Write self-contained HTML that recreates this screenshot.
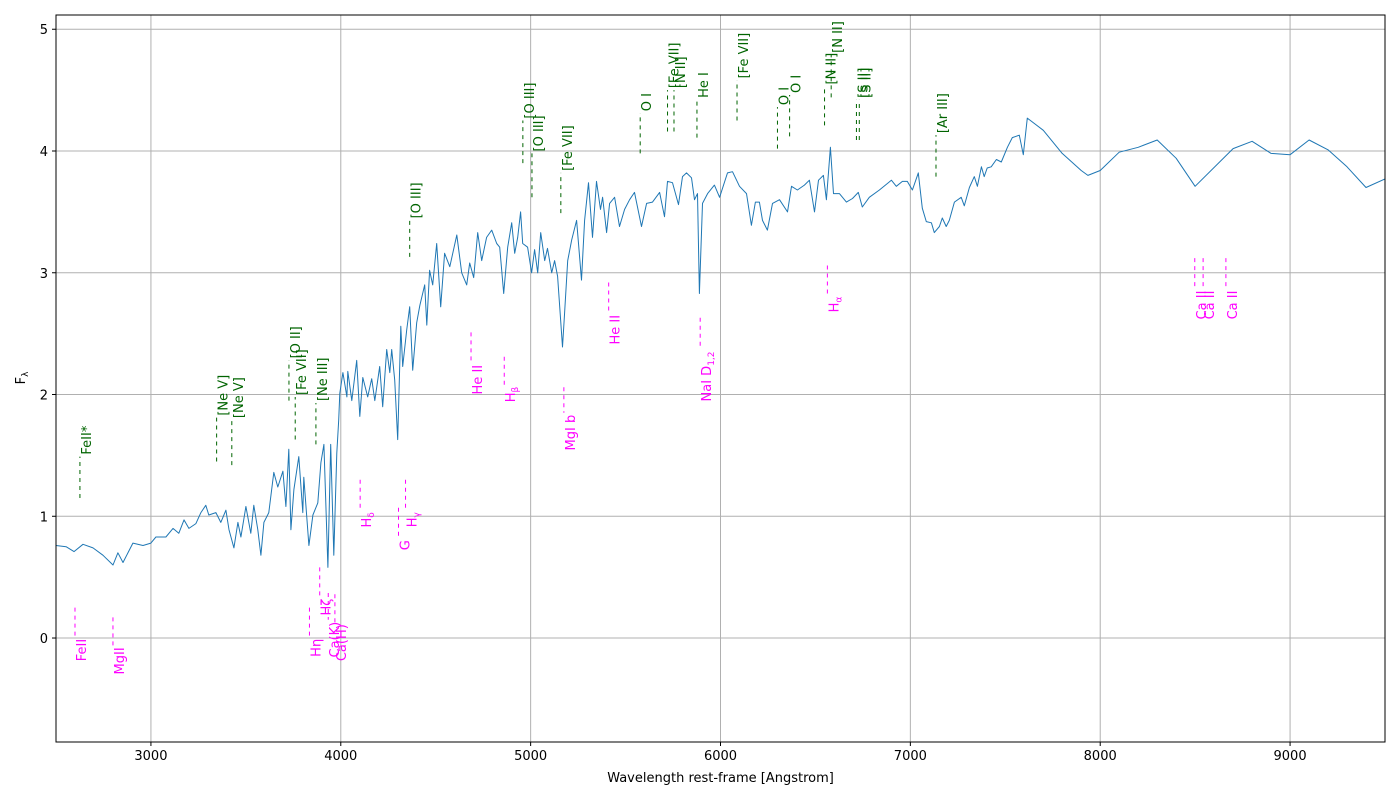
<!DOCTYPE html>
<html><head><meta charset="utf-8"><style>
html,body{margin:0;padding:0;background:#fff;}
svg{display:block;font-family:"DejaVu Sans","Liberation Sans",sans-serif;}
</style></head><body>
<svg id="chart" width="1400" height="800" xmlns="http://www.w3.org/2000/svg"></svg>
<script>
const wl = [2500,2553,2595,2642,2695,2747,2800,2826,2853,2905,2958,3000,3026,3079,3116,3147,3174,3200,3237,3263,3289,3305,3342,3368,3395,3411,3437,3458,3474,3500,3526,3542,3563,3579,3595,3621,3647,3668,3695,3711,3726,3737,3753,3779,3800,3805,3832,3853,3879,3895,3911,3932,3947,3963,3979,3989,3995,4011,4032,4037,4058,4084,4100,4116,4142,4163,4179,4205,4221,4242,4258,4268,4284,4300,4316,4326,4347,4363,4379,4400,4416,4442,4453,4468,4484,4505,4526,4547,4574,4611,4637,4663,4679,4700,4721,4742,4768,4795,4821,4837,4858,4879,4900,4916,4932,4947,4958,4984,5005,5021,5037,5053,5074,5089,5111,5126,5142,5168,5179,5195,5216,5242,5268,5284,5305,5326,5347,5368,5379,5400,5416,5442,5468,5495,5521,5547,5584,5611,5642,5679,5705,5721,5747,5779,5800,5821,5847,5863,5879,5889,5905,5932,5968,5995,6037,6063,6100,6137,6163,6184,6205,6221,6247,6274,6311,6353,6374,6405,6442,6468,6495,6516,6542,6558,6579,6595,6626,6663,6695,6726,6747,6784,6837,6900,6926,6958,6984,7011,7042,7063,7084,7111,7126,7153,7168,7189,7205,7232,7268,7284,7311,7337,7353,7374,7389,7405,7426,7453,7479,7511,7537,7574,7595,7616,7700,7800,7900,7935,8000,8100,8200,8300,8400,8500,8700,8800,8900,9000,9100,9200,9300,9400,9500];
const flux = [0.76,0.75,0.71,0.77,0.74,0.68,0.60,0.70,0.62,0.78,0.76,0.78,0.83,0.83,0.90,0.86,0.97,0.90,0.94,1.03,1.09,1.01,1.03,0.95,1.05,0.89,0.74,0.95,0.83,1.08,0.86,1.09,0.89,0.68,0.95,1.03,1.36,1.24,1.37,1.08,1.55,0.89,1.22,1.49,1.03,1.32,0.76,1.01,1.11,1.44,1.59,0.58,1.59,0.68,1.52,1.79,2.01,2.18,1.98,2.19,1.95,2.28,1.82,2.14,1.98,2.13,1.95,2.23,1.90,2.37,2.18,2.37,2.12,1.63,2.56,2.23,2.53,2.72,2.20,2.59,2.73,2.90,2.57,3.02,2.90,3.24,2.72,3.16,3.05,3.31,3.00,2.90,3.08,2.96,3.33,3.10,3.29,3.35,3.24,3.21,2.83,3.21,3.41,3.16,3.29,3.50,3.24,3.21,3.00,3.19,3.00,3.33,3.10,3.20,3.00,3.10,2.97,2.39,2.67,3.10,3.27,3.43,2.94,3.43,3.74,3.29,3.75,3.52,3.62,3.33,3.57,3.62,3.38,3.52,3.60,3.66,3.38,3.57,3.58,3.66,3.46,3.75,3.74,3.56,3.79,3.82,3.78,3.60,3.65,2.83,3.57,3.65,3.72,3.62,3.82,3.83,3.71,3.65,3.39,3.58,3.58,3.43,3.35,3.57,3.60,3.50,3.71,3.68,3.72,3.76,3.50,3.76,3.80,3.60,4.03,3.65,3.65,3.58,3.61,3.66,3.54,3.62,3.68,3.76,3.71,3.75,3.75,3.68,3.82,3.53,3.42,3.41,3.33,3.38,3.45,3.38,3.43,3.58,3.62,3.55,3.70,3.79,3.71,3.87,3.79,3.86,3.87,3.93,3.91,4.03,4.11,4.13,3.97,4.27,4.17,3.98,3.84,3.80,3.84,3.99,4.03,4.09,3.94,3.71,4.02,4.08,3.98,3.97,4.09,4.01,3.87,3.70,3.77];
const emName = ["FeII*","[Ne V]","[Ne V]","[O II]","[Fe VII]","[Ne III]","[O III]","[O III]","[O III]","[Fe VII]","O I","[Fe VII]","[N II]","He I","[Fe VII]","O I","O I","[N II]","[N II]","[S II]","[S II]","[Ar III]"];
const emWl = [2626,3346,3426,3727,3760,3869,4363,4959,5007,5159,5577,5721,5755,5876,6087,6300,6364,6548,6583,6716,6731,7135];
const emLo = [1.15,1.45,1.42,1.95,1.63,1.59,3.13,3.90,3.62,3.49,3.98,4.16,4.16,4.11,4.25,4.02,4.12,4.21,4.44,4.09,4.09,3.79];
const emHi = [1.49,1.81,1.79,2.28,1.98,1.93,3.43,4.25,3.98,3.82,4.31,4.50,4.50,4.42,4.58,4.36,4.46,4.53,4.79,4.42,4.42,4.13];
const abBase = ["FeII","MgII","Hη","Hζ","Ca(K)","Ca(H)","H","G","H","He II","H","MgI b","He II","NaI D","H","Ca II","Ca II","Ca II"];
const abSub = ["","","","","","","δ","","γ","","β","","","1,2","α","","",""];
const abWl = [2600,2800,3835,3889,3934,3969,4102,4304,4341,4686,4861,5175,5411,5893,6563,8498,8542,8662];
const abHi = [0.25,0.17,0.25,0.58,0.37,0.36,1.30,1.07,1.30,2.51,2.31,2.06,2.92,2.63,3.06,3.12,3.12,3.12];
const abLo = [0.01,-0.06,0.01,0.34,0.15,0.13,1.05,0.82,1.05,2.26,2.08,1.85,2.67,2.37,2.82,2.87,2.87,2.87];
const xTicks = [3000,4000,5000,6000,7000,8000,9000];
const yTicks = [0,1,2,3,4,5];

const L=56,R=1385,T=15,B=742, X0=2500,X1=9500,Y0=-0.854,Y1=5.117;
const sx=v=>L+(v-X0)/(X1-X0)*(R-L);
const sy=v=>B-(v-Y0)/(Y1-Y0)*(B-T);
const svg=document.getElementById('chart');
const NS='http://www.w3.org/2000/svg';
function mk(tag,attrs,parent){const e=document.createElementNS(NS,tag);for(const k in attrs)e.setAttribute(k,attrs[k]);(parent||svg).appendChild(e);return e;}

const grid=mk('g',{});


xTicks.forEach(t=>{const x=sx(t);
 const g=mk('line',{x1:x,x2:x,y1:T,y2:B,stroke:'#b0b0b0','stroke-width':1},grid);
 
 
 mk('line',{x1:x,x2:x,y1:B,y2:B+4,stroke:'#000','stroke-width':1});
 const tl=mk('text',{x:x,y:B+18,'font-size':13,'text-anchor':'middle'});tl.textContent=t;
 
 
});
yTicks.forEach(t=>{const y=sy(t);
 const g=mk('line',{x1:L,x2:R,y1:y,y2:y,stroke:'#b0b0b0','stroke-width':1},grid);
 
 
 mk('line',{x1:L-4,x2:L,y1:y,y2:y,stroke:'#000','stroke-width':1});
 const tl=mk('text',{x:L-8,y:y+5,'font-size':13,'text-anchor':'end'});tl.textContent=t;
 
 
});

// spectrum
let d='';wl.forEach((w,i)=>{d+=(i?'L':'M')+sx(w).toFixed(1)+','+sy(flux[i]).toFixed(1);});
const clip=mk('clipPath',{id:'pc'});mk('rect',{x:L,y:T,width:R-L,height:B-T},clip);
const sp=mk('path',{d:d,fill:'none',stroke:'#1f77b4','stroke-width':1,'stroke-linejoin':'round','clip-path':'url(#pc)'});



// emission lines
emName.forEach((n,i)=>{const x=sx(emWl[i]);
 const ln=mk('line',{x1:x,x2:x,y1:sy(emLo[i]),y2:sy(emHi[i]),stroke:'#006400','stroke-width':1,'stroke-dasharray':'4,4'});
 
 
 const yy=sy(emHi[i])-2;
 const t=mk('text',{x:x+11,y:yy,'font-size':13,fill:'#006400',transform:`rotate(-90 ${x+11} ${yy})`});t.textContent=n;
 
 
});
// absorption lines
abBase.forEach((n,i)=>{const x=sx(abWl[i]);
 const ln=mk('line',{x1:x,x2:x,y1:sy(abHi[i]),y2:sy(abLo[i]),stroke:'#ff00ff','stroke-width':1,'stroke-dasharray':'4,4'});
 
 
 const yy=sy(abLo[i])+2;
 const t=mk('text',{x:x+11,y:yy,'font-size':13,fill:'#ff00ff','text-anchor':'end',transform:`rotate(-90 ${x+11} ${yy})`});
 
 
 t.appendChild(document.createTextNode(n));
 if(abSub[i]){const s=mk('tspan',{'font-size':9,dy:3},t);s.textContent=abSub[i];}
});

mk('rect',{x:L,y:T,width:R-L,height:B-T,fill:'none',stroke:'#000','stroke-width':1});
const xl=mk('text',{x:(L+R)/2,y:782,'font-size':13,'text-anchor':'middle'});xl.textContent='Wavelength rest-frame [Angstrom]';


const yl=mk('text',{x:25,y:378,'font-size':13,'text-anchor':'middle',transform:'rotate(-90 25 378)'});


yl.appendChild(document.createTextNode('F'));
const ys=mk('tspan',{'font-size':9,dy:3},yl);ys.textContent='λ';
</script>
</body></html>
